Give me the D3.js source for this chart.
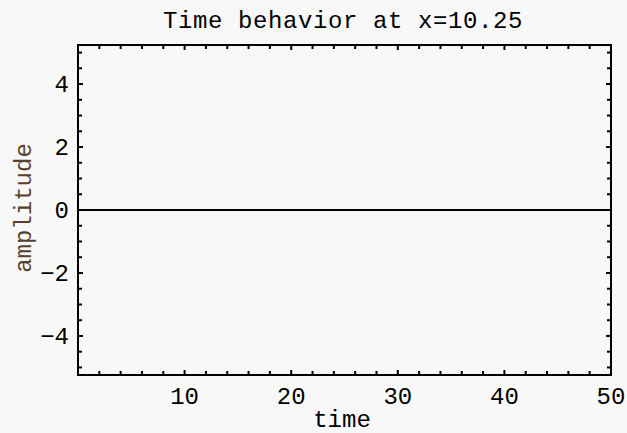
<!DOCTYPE html>
<html><head><meta charset="utf-8">
<script src="https://cdn.jsdelivr.net/npm/d3@7"></script>
<style>body{margin:0;background:#f8f8f8}svg{display:block}</style>
</head><body>
<script>
const times = [0, 5, 10, 15, 20, 25, 30, 35, 40, 45, 50];
const amplitude = [0, 0, 0, 0, 0, 0, 0, 0, 0, 0, 0];
const xTickLabels = [10, 20, 30, 40, 50];
const yTickLabels = [-4, -2, 0, 2, 4];
const title = "Time behavior at x=10.25";

const W = 627, H = 433;
const m = {left: 78, right: 16, top: 45, bottom: 58};
const svg = d3.select("body").append("svg").attr("width", W).attr("height", H);
svg.append("rect").attr("width", W).attr("height", H).attr("fill", "#f8f8f8");

const x = d3.scaleLinear().domain([0, 50]).range([m.left, W - m.right]);
const y = d3.scaleLinear().domain([-5.24, 5.24]).range([H - m.bottom, m.top]);
const font = "'Liberation Mono', 'DejaVu Sans Mono', monospace";
const fs = "24px";

const xMinor = d3.range(2, 50, 2);
const yMinor = d3.range(-5, 5.01, 0.5);

const g = svg.append("g");
const x0 = x.range()[0], x1 = x.range()[1], y0 = y.range()[0], y1 = y.range()[1];
xMinor.forEach(v => {
  const L = (v % 10 === 0) ? 5 : 4;
  g.append("line").attr("x1", x(v)).attr("x2", x(v)).attr("y1", y0).attr("y2", y0 - L).attr("stroke", "#000").attr("stroke-width", 2);
  g.append("line").attr("x1", x(v)).attr("x2", x(v)).attr("y1", y1).attr("y2", y1 + L).attr("stroke", "#000").attr("stroke-width", 2);
});
yMinor.forEach(v => {
  const L = (Math.abs(v) % 2 === 0) ? 5 : 4;
  g.append("line").attr("y1", y(v)).attr("y2", y(v)).attr("x1", x0).attr("x2", x0 + L).attr("stroke", "#000").attr("stroke-width", 2);
  g.append("line").attr("y1", y(v)).attr("y2", y(v)).attr("x1", x1).attr("x2", x1 - L).attr("stroke", "#000").attr("stroke-width", 2);
});
g.append("rect").attr("x", x0).attr("y", y1).attr("width", x1 - x0).attr("height", y0 - y1)
  .attr("fill", "none").attr("stroke", "#000").attr("stroke-width", 2);

// data line
const line = d3.line().x((d, i) => x(times[i])).y(d => y(d));
svg.append("path").datum(amplitude).attr("d", line).attr("fill", "none").attr("stroke", "#000").attr("stroke-width", 2);

// tick labels
svg.selectAll(".xl").data(xTickLabels).enter().append("text")
  .attr("x", d => x(d)).attr("y", 404).attr("text-anchor", "middle")
  .style("font-family", font).style("font-size", fs).text(d => d);
svg.selectAll(".yl").data(yTickLabels).enter().append("text")
  .attr("x", 69).attr("y", d => y(d) + 8).attr("text-anchor", "end")
  .style("font-family", font).style("font-size", fs).text(d => d < 0 ? "\u2212" + Math.abs(d) : d);

svg.append("text").attr("x", 343).attr("y", 28).attr("text-anchor", "middle")
  .style("font-family", font).style("font-size", fs).style("letter-spacing", "0.6px").text(title);
svg.append("text").attr("x", 342).attr("y", 427).attr("text-anchor", "middle")
  .style("font-family", font).style("font-size", fs).text("time");
svg.append("text").attr("transform", "translate(31,208) rotate(-90)").attr("text-anchor", "middle")
  .style("font-family", font).style("font-size", fs).attr("fill", "#5a4030").text("amplitude");
</script>
</body></html>
